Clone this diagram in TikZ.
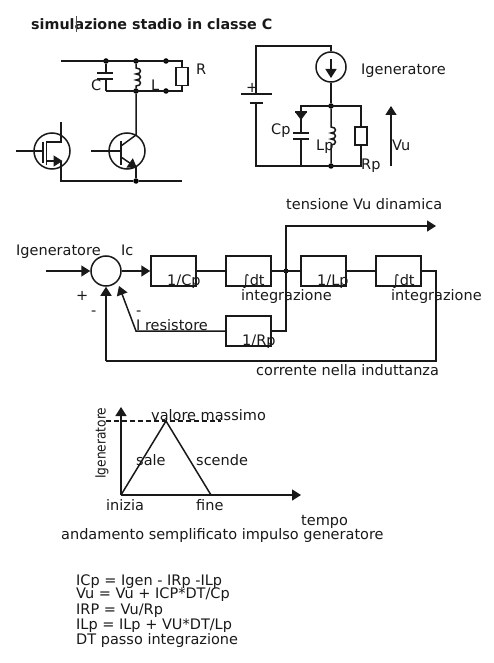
\documentclass[tikz,border=0pt]{standalone}
\usepackage{fontspec}
\setmainfont{DejaVu Sans}
\usetikzlibrary{arrows.meta}
\tikzset{
  wire/.style={line width=1.5pt,black!90},
  arr/.style={wire,-{Triangle[length=9pt,width=11pt]}},
  dotn/.style={circle,fill=black,inner sep=0pt,minimum size=5.5pt},
  blk/.style={draw=black!90,line width=1.5pt,fill=none,minimum width=45pt,minimum height=30pt,inner sep=0pt},
  res/.style={draw=black!90,line width=1.5pt,minimum width=12pt,minimum height=18pt,inner sep=0pt},
  circ/.style={draw=black!90,line width=1.5pt,circle,inner sep=0pt},
  txt/.style={anchor=base west,inner sep=0pt,font=\fontsize{14.5pt}{15pt}\selectfont,text=black!90},
}
\begin{document}
\begin{tikzpicture}[x=1pt,y=-1pt]
\useasboundingbox (0,0) rectangle (494,663);
\fill[white] (0,0) rectangle (494,663);
% title
\node[txt,font=\bfseries\fontsize{14.3pt}{15pt}\selectfont] (title) at (31,30) {simulazione stadio in classe C};
\draw[line width=0.8pt,black!70] (76,16) -- (76,32);
% circuit 1
\coordinate (tl) at (61,61); \coordinate (tr) at (182,61);
\node[dotn] (a1) at (106,61) {}; \node[dotn] (a2) at (136,61) {}; \node[dotn] (a3) at (166,61) {};
\node[dotn] (b1) at (136,91) {}; \node[dotn] (b2) at (166,91) {};
\coordinate (br) at (182,91); \coordinate (bc) at (106,91);
\draw[wire] (tl) -- (tr) -- (br) -- (bc);
\node[res,fill=white] (R) at (182,76.5) {};
\draw[wire] (a1) -- (106,73);
\draw[wire] (97,73) -- (113,73);
\draw[wire] (97,79) -- (113,79);
\draw[wire] (106,79) -- (bc);
\draw[wire] (a2) -- (136,68) .. controls (142,68) and (142,74) .. (136,74) .. controls (142,74) and (142,80) .. (136,80) .. controls (142,80) and (142,86) .. (136,86) -- (b1);
\node[circ,minimum size=36pt] (Q) at (127,151) {};
\node[dotn] (b3) at (136,181) {};
\draw[wire] (b1) -- (136,135) -- (121,146);
\draw[wire] (91,151) -- (121,151);
\draw[wire] (121,141) -- (121,165);
\draw[arr] (121,157) -- (137,168);
\draw[wire] (136,167) -- (b3);
\node[circ,minimum size=36pt] (M) at (52,151) {};
\draw[wire] (16,151) -- (43,151);
\draw[wire] (43,142) -- (43,163);
\draw[wire] (46.5,141) -- (46.5,165);
\draw[wire] (46.5,142) -- (61,142) -- (61,122);
\draw[arr] (46.5,161) -- (62.5,161);
\draw[wire] (61,161) -- (61,181) -- (b3) -- (182,181);
\node[txt] (tC) at (91,91) {C};
\node[txt] (tL) at (151,91) {L};
\node[txt] (tR) at (196,75) {R};
% circuit 2
\node[circ,minimum size=30pt] (G) at (331,67) {};
\node[dotn] (n1) at (331,106) {}; \node[dotn] (n2) at (331,166) {};
\draw[wire] (G.north) -- (331,46) -- (256,46) -- (256,94);
\draw[wire] (241,94) -- (272,94);
\draw[wire] (250,103) -- (263,103);
\draw[wire] (256,103) -- (256,166) -- (361,166) -- (361,106) -- (301,106) -- (301,133);
\draw[arr] (331,59) -- (331,78);
\draw[wire] (G.south) -- (n1);
\fill[black!90] (295,112) -- (307,112) -- (301,120) -- cycle;
\draw[wire] (295,112) -- (307,112);
\draw[wire] (293,133) -- (309,133);
\draw[wire] (293,139) -- (309,139);
\draw[wire] (301,139) -- (301,166);
\draw[wire] (n1) -- (331,127) .. controls (337,127) and (337,133) .. (331,133) .. controls (337,133) and (337,139) .. (331,139) .. controls (337,139) and (337,145) .. (331,145) -- (n2);
\node[res,fill=white] (Rp) at (361,136) {};
\coordinate (vb) at (391,166); \coordinate (vt) at (391,106);
\draw[arr] (vb) -- (vt);
\node[txt] (tplus) at (246,93) {+};
\node[txt] (tCp) at (271,135) {Cp};
\node[txt] (tLp) at (316,151) {Lp};
\node[txt] (tRp) at (361,170) {Rp};
\node[txt] (tVu) at (392,150) {Vu};
\node[txt] (tI) at (361,75) {Igeneratore};
% block diagram
\node[circ,minimum size=30pt] (S) at (106,271) {};
\node[blk] (B1) at (173.5,271) {};
\node[blk] (B2) at (248.5,271) {};
\node[blk] (B3) at (323.5,271) {};
\node[blk] (B4) at (398.5,271) {};
\node[blk] (B5) at (248.5,331) {};
\node[dotn,minimum size=5pt] (J) at (286,271) {};
\coordinate (in) at (46,271);
\coordinate (o1) at (436,226); \coordinate (c1) at (286,226);
\coordinate (c2) at (286,331);
\coordinate (c3) at (136,331);
\coordinate (d1) at (436,271); \coordinate (d2) at (436,361); \coordinate (d3) at (106,361);
\draw[arr] (in) -- (S.west);
\draw[arr] (S.east) -- (B1.west);
\draw[wire] (B1.east) -- (B2.west);
\draw[wire] (B2.east) -- (B3.west);
\draw[wire] (B3.east) -- (B4.west);
\draw[wire] (B4.east) -- (d1) -- (d2) -- (d3);
\draw[arr] (d3) -- (S.south);
\draw[arr] (B5.east) -- (c2) -- (c1) -- (o1);
\draw[arr] (B5.west) -- (c3) -- (119,286);
\node[txt] (t1) at (16,255) {Igeneratore};
\node[txt] (t2) at (121,255) {Ic};
\node[txt] (t3) at (167,285) {1/Cp};
\node[txt] (t4) at (242,285) {∫dt};
\node[txt] (t5) at (241,300) {integrazione};
\node[txt] (t6) at (317,285) {1/Lp};
\node[txt] (t7) at (392,285) {∫dt};
\node[txt] (t8) at (391,300) {integrazione};
\node[txt] (t9) at (242,345) {1/Rp};
\node[txt] (t10) at (136,330) {I resistore};
\node[txt] (t11) at (286,209) {tensione Vu dinamica};
\node[txt] (t12) at (256,375) {corrente nella induttanza};
\node[txt] (t13) at (76,300) {+};
\node[txt] (t14) at (91,315) {-};
\node[txt] (t15) at (136,315) {-};
% waveform
\coordinate (O) at (121,495);
\coordinate (yt) at (121,407); \coordinate (xt) at (301,495);
\coordinate (P) at (166,421); \coordinate (E) at (211,495);
\draw[arr] (O) -- (yt);
\draw[arr] (O) -- (xt);
\draw[wire] (O) -- (P) -- (E);
\draw[wire,dash pattern=on 5pt off 3pt] (106,421) -- (221,421);
\node[txt,rotate=90,font=\fontsize{12.2pt}{15pt}\selectfont,yscale=1.15] (t20) at (105.5,479) {Igeneratore};
\node[txt] (t21) at (151,420) {valore massimo};
\node[txt] (t22) at (136,465) {sale};
\node[txt] (t23) at (196,465) {scende};
\node[txt] (t24) at (106,510) {inizia};
\node[txt] (t25) at (196,510) {fine};
\node[txt] (t26) at (301,525) {tempo};
\node[txt] (t27) at (61,539) {andamento semplificato impulso generatore};
\node[txt] (e1) at (76,585) {ICp = Igen - IRp -ILp};
\node[txt] (e2) at (76,598) {Vu = Vu + ICP*DT/Cp};
\node[txt] (e3) at (76,614) {IRP = Vu/Rp};
\node[txt] (e4) at (76,629) {ILp = ILp + VU*DT/Lp};
\node[txt] (e5) at (76,644) {DT passo integrazione};
\end{tikzpicture}
\end{document}
